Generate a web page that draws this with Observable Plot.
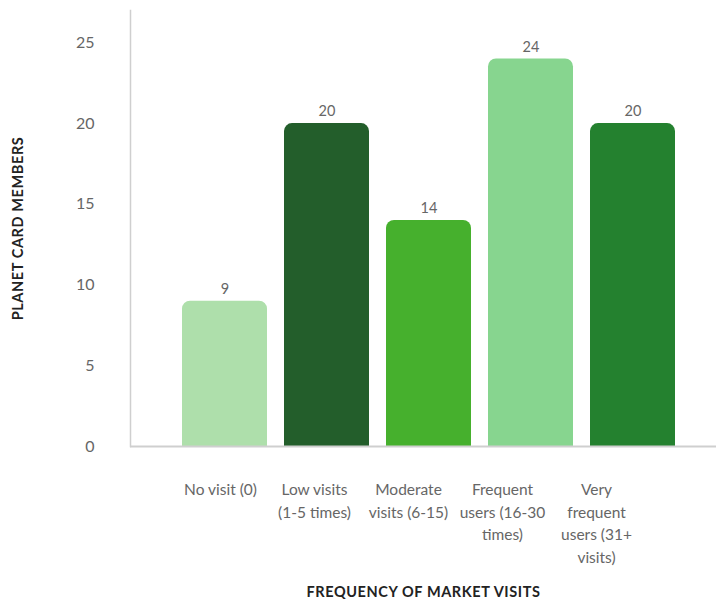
<!DOCTYPE html>
<html><head><meta charset="utf-8">
<script src="https://cdn.jsdelivr.net/npm/d3@7"></script>
<script src="https://cdn.jsdelivr.net/npm/@observablehq/plot@0.6"></script>
<style>body{margin:0;background:#fff} #chart svg{display:block}</style>
</head><body><div id="chart"></div>
<script>
const categories = ["No visit (0)", "Low visits\n(1-5 times)", "Moderate\nvisits (6-15)", "Frequent\nusers (16-30\ntimes)", "Very\nfrequent\nusers (31+\nvisits)"];
const members = [9, 20, 14, 24, 20];
const barColors = ["#aedfab", "#235e2b", "#46b02d", "#87d58f", "#24812f"];
const yTicks = [0, 5, 10, 15, 20, 25];
const xTitle = "FREQUENCY OF MARKET VISITS";
const yTitle = "PLANET CARD MEMBERS";

const data = categories.map((c, i) => ({category: c, members: members[i], color: barColors[i]}));
const font = "Lato, 'Open Sans', sans-serif";

const chart = Plot.plot({
  width: 716, height: 448,
  marginLeft: 130, marginRight: 0, marginTop: 10, marginBottom: 2,
  style: {fontFamily: font, background: "#fff", color: "#666", overflow: "visible"},
  x: {domain: categories, range: [181, 676], paddingInner: 0.17, paddingOuter: 0, label: null, axis: null},
  y: {domain: [0, 27], label: null},
  color: {type: "identity"},
  marks: [
    Plot.frame({anchor: "left", stroke: "#cfcfcf", strokeWidth: 1.5}),
    Plot.barY(data, {x: "category", y1: -1, y2: "members", fill: "color", rx: 8, clip: true}),
    Plot.ruleY([0], {stroke: "#cfcfcf", strokeWidth: 2}),
    Plot.text(data, {x: "category", y: "members", text: d => String(d.members), dy: -12, fill: "#666", fontSize: 14.5}),
    Plot.axisY({ticks: yTicks, tickSize: 0, tickPadding: 36, fontSize: 16, label: null}),
    Plot.text([yTitle], {frameAnchor: "left", textAnchor: "middle", dx: -112, rotate: -90, text: d => d, fontSize: 14.5, fontWeight: "bold", fill: "#222"})
  ]
});

const labels = Plot.plot({
  width: 716, height: 157,
  marginLeft: 130, marginRight: 0, marginTop: 0, marginBottom: 0,
  style: {fontFamily: font, background: "#fff", color: "#666"},
  x: {type: "point", domain: categories, range: [218, 597], padding: 0, axis: null},
  marks: [
    Plot.text(categories, {x: d => d, frameAnchor: "top", lineAnchor: "top", dy: 31, text: d => d, fontSize: 15.5, lineHeight: 1.45, fill: "#666"}),
    Plot.text([xTitle], {frameAnchor: "top", lineAnchor: "middle", dy: 144, text: d => d, fontSize: 14.5, fontWeight: "bold", fill: "#222"})
  ]
});

[chart, labels].forEach(svg => d3.select(svg).selectAll("text")
  .filter(function(){ return this.textContent === xTitle || this.textContent === yTitle; })
  .attr("letter-spacing", "0.6"));
document.getElementById("chart").append(chart, labels);
</script>
</body></html>
